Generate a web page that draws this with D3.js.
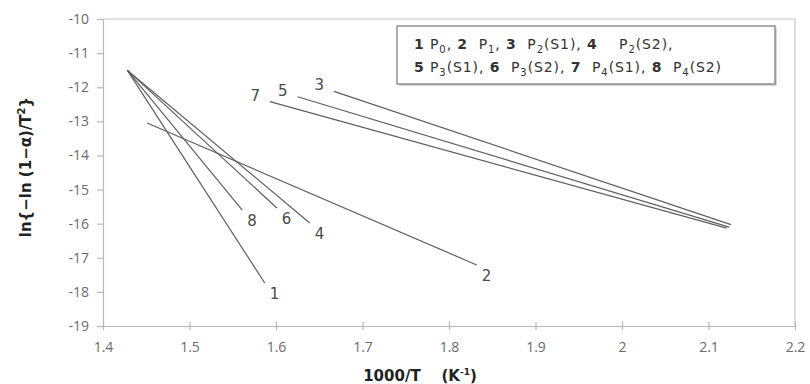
<!DOCTYPE html>
<html>
<head>
<meta charset="utf-8">
<script src="https://cdn.jsdelivr.net/npm/d3@7"></script>
<style>
  body { margin: 0; background: #fff; }
  svg text { font-family: "DejaVu Sans", sans-serif; }
</style>
</head>
<body>
<div class="chart"></div>
<script>
var width = 810;
var height = 384;

// each line: start (x0,y0) -> end (x1,y1), label number
var lineIds = ['1', '2', '3', '4', '5', '6', '7', '8'];
var x0 = [1.428, 1.451, 1.667, 1.428, 1.625, 1.428, 1.593, 1.428];
var y0 = [-11.5, -13.05, -12.12, -11.5, -12.28, -11.5, -12.42, -11.5];
var x1 = [1.587, 1.832, 2.126, 1.639, 2.124, 1.601, 2.121, 1.561];
var y1 = [-17.74, -17.21, -16.03, -15.98, -16.10, -15.54, -16.13, -15.60];
var labelAt = ['end', 'end', 'start', 'end', 'start', 'end', 'start', 'end'];

var xTicks = [1.4, 1.5, 1.6, 1.7, 1.8, 1.9, 2, 2.1, 2.2];
var yTicks = [-10, -11, -12, -13, -14, -15, -16, -17, -18, -19];

var x = d3.scaleLinear().domain([1.4, 2.2]).range([103, 795]);
var y = d3.scaleLinear().domain([-19, -10]).range([326, 19]);

var svg = d3.select('.chart')
	.append('svg')
	.attr('width', width)
	.attr('height', height);

// frame top/right
svg.append('path')
	.attr('d', 'M' + x(1.4) + ',' + y(-10) + 'H' + x(2.2) + 'V' + y(-19))
	.attr('fill', 'none')
	.attr('stroke', '#c4c4c4')
	.attr('stroke-width', 1.2);

var xAxis = svg.append('g')
	.attr('transform', 'translate(0,' + y(-19) + ')')
	.call(d3.axisBottom(x).tickValues(xTicks).tickSize(4).tickSizeOuter(0)
		.tickFormat(function(d){ return String(d); }));
xAxis.selectAll('.tick line').attr('y1', -4);

var yAxis = svg.append('g')
	.attr('transform', 'translate(' + x(1.4) + ',0)')
	.call(d3.axisLeft(y).tickValues(yTicks).tickSize(6).tickSizeOuter(0)
		.tickFormat(function(d){ return String(d); }));

svg.selectAll('.domain, .tick line').attr('stroke', '#b8b8b8').attr('stroke-width', 1.2);
svg.selectAll('.tick text')
	.attr('fill', '#6a6a6a')
	.style('font-family', '"Open Sans", sans-serif')
	.style('font-size', '14px');
xAxis.selectAll('.tick text').attr('dy', '1.35em');
yAxis.selectAll('.tick text').attr('x', -14);

// lines
var lines = svg.append('g');
lineIds.forEach(function(id, i){
	lines.append('line')
		.attr('x1', x(x0[i])).attr('y1', y(y0[i]))
		.attr('x2', x(x1[i])).attr('y2', y(y1[i]))
		.attr('stroke', '#5e5e5e')
		.attr('stroke-width', 1.2);
	var end = labelAt[i] == 'end';
	lines.append('text')
		.attr('x', end ? x(x1[i]) + 5 : x(x0[i]) - 10)
		.attr('y', end ? y(y1[i]) + 16 : y(y0[i]) - 1)
		.attr('text-anchor', end ? 'start' : 'end')
		.attr('fill', '#4a4a4a')
		.style('font-size', '15px')
		.text(id);
});

// legend box
var legend = svg.append('g');
legend.append('rect')
	.attr('x', 399).attr('y', 28).attr('width', 378).attr('height', 58)
	.attr('fill', '#d8d8d8');
legend.append('rect')
	.attr('x', 397).attr('y', 26).attr('width', 378).attr('height', 58)
	.attr('fill', '#fff')
	.attr('stroke', '#777')
	.attr('stroke-width', 1.2);

var legendRows = [
	[['1', ' P', '0', ', '], ['2', '  P', '1', ', '], ['3', '  P', '2', '(S1), '], ['4', '    P', '2', '(S2),']],
	[['5', ' P', '3', '(S1), '], ['6', '  P', '3', '(S2), '], ['7', '  P', '4', '(S1), '], ['8', '  P', '4', '(S2)']]
];
legendRows.forEach(function(row, r){
	var t = legend.append('text')
		.attr('x', 414).attr('y', 49 + r * 23)
		.attr('fill', '#333')
		.style('font-size', '14px')
		.style('letter-spacing', '0.9px')
		.attr('xml:space', 'preserve');
	row.forEach(function(p){
		t.append('tspan').style('font-weight', 'bold').text(p[0]);
		t.append('tspan').text(p[1]);
		t.append('tspan').attr('dy', 4).style('font-size', '10px').text(p[2]);
		t.append('tspan').attr('dy', -4).text(p[3]);
	});
});

// axis titles
svg.append('text')
	.attr('x', 420).attr('y', 381)
	.attr('text-anchor', 'middle')
	.attr('fill', '#222')
	.style('font-size', '15px')
	.style('font-weight', 'bold')
	.attr('xml:space', 'preserve')
	.html('1000/T    (K<tspan dy="-6" font-size="9px">-1</tspan><tspan dy="6">)</tspan>');

svg.append('text')
	.attr('transform', 'translate(31,167) rotate(-90)')
	.attr('text-anchor', 'middle')
	.attr('fill', '#222')
	.style('font-size', '15px')
	.style('font-weight', 'bold')
	.html('ln{−ln (1−α)/T<tspan dy="-6" font-size="10px">2</tspan><tspan dy="6">}</tspan>');
</script>
</body>
</html>
